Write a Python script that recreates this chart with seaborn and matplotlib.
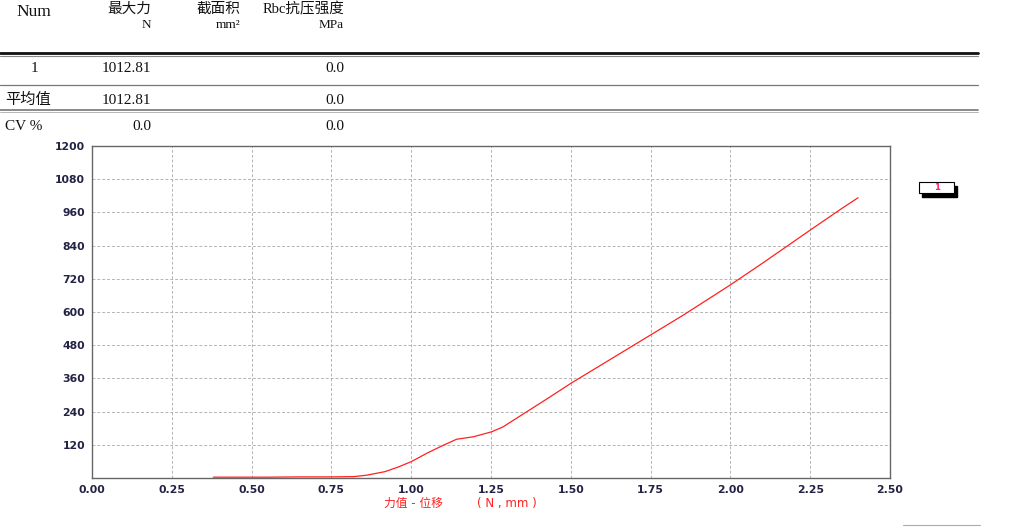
import matplotlib
matplotlib.use("Agg")
import matplotlib.pyplot as plt
import seaborn as sns
import pandas as pd
from matplotlib.lines import Line2D
from matplotlib.patches import Rectangle

# curve: displacement (mm) vs force (N)
displacement = [0.38, 0.45, 0.55, 0.65, 0.75, 0.82, 0.86, 0.918, 0.96, 1.00, 1.05, 1.10,
                1.142, 1.195, 1.252, 1.288, 1.33, 1.42, 1.50, 1.60, 1.75, 1.85, 2.00,
                2.10, 2.25, 2.35, 2.40]
force = [3, 3, 3, 4, 4, 5, 10, 23, 40, 59, 90, 118,
         140, 149, 167, 185, 216, 282, 342, 412, 517, 587, 698,
         776, 896, 975, 1013]

x_ticks = [0.00, 0.25, 0.50, 0.75, 1.00, 1.25, 1.50, 1.75, 2.00, 2.25, 2.50]
y_ticks = [0, 120, 240, 360, 480, 600, 720, 840, 960, 1080, 1200]

# result table
col_headers = ["Num", "最大力", "截面积", "Rbc抗压强度"]
col_units = ["", "N", "mm²", "MPa"]
row_labels = ["1", "平均值", "CV %"]
max_force = ["1012.81", "1012.81", "0.0"]
strength = ["0.0", "0.0", "0.0"]

df = pd.DataFrame({"disp": displacement, "force": force})

sns.set_style("white")
plt.rcParams["font.family"] = ["DejaVu Sans", "Noto Sans CJK SC"]

fig = plt.figure(figsize=(10.28, 5.28), dpi=100)
W, H = 1028, 528
ax = fig.add_axes([92 / W, 1 - 478 / H, (890 - 92) / W, (478 - 146) / H])

sns.lineplot(data=df, x="disp", y="force", color="#ff2020", linewidth=0.9,
             sort=False, ax=ax, legend=False)

ax.set_xlim(0, 2.5)
ax.set_ylim(0, 1200)
ax.set_xticks(x_ticks)
ax.set_xticklabels([f"{t:.2f}" for t in x_ticks])
ax.set_yticks(y_ticks)
ax.set_yticklabels(["" if t == 0 else str(t) for t in y_ticks])
ax.tick_params(axis="both", labelsize=7.8, colors="#333333", length=3, width=0.8,
               direction="out", pad=2)
for lab in ax.get_xticklabels() + ax.get_yticklabels():
    lab.set_fontweight("bold")
    lab.set_color("#222244")
ax.grid(True, color="#b4b4b4", linestyle=(0, (3, 2)), linewidth=0.7)
for side in ["left", "bottom", "top", "right"]:
    ax.spines[side].set_visible(True)
    ax.spines[side].set_color("#666666")
    ax.spines[side].set_linewidth(1.0)
ax.set_xlabel("")
ax.set_ylabel("")

fig.text(384 / W, 1 - 503 / H, "力值 - 位移", color="#ff2020",
         fontsize=8.5, va="center", ha="left")
fig.text(477 / W, 1 - 503 / H, "( N , mm )", color="#ff2020",
         fontsize=8.5, va="center", ha="left")

# legend box with shadow
fig.patches.append(Rectangle((922 / W, 1 - 197 / H), 35 / W, 11 / H,
                             transform=fig.transFigure, facecolor="black", edgecolor="black"))
fig.patches.append(Rectangle((919 / W, 1 - 193 / H), 35 / W, 11 / H,
                             transform=fig.transFigure, facecolor="white",
                             edgecolor="black", linewidth=0.8))
fig.text(937 / W, 1 - 188 / H, "1", color="#ff2060", fontsize=6, fontweight="bold",
         ha="center", va="center")

# table text
tfont = ["Liberation Serif", "Noto Sans CJK SC"]
right_x = [None, 151, 240, 344]
fig.text(34 / W, 1 - 12 / H, col_headers[0], fontsize=12.5, ha="center", va="center",
         family=tfont, color="#111111")
for i in range(1, 4):
    fig.text(right_x[i] / W, 1 - 9 / H, col_headers[i], fontsize=10.5, ha="right",
             va="center", family=tfont, color="#111111")
    fig.text(right_x[i] / W, 1 - 25 / H, col_units[i], fontsize=9.5, ha="right",
             va="center", family=tfont, color="#111111")

row_y = [68, 100, 126]
for j in range(3):
    if j == 0:
        fig.text(34 / W, 1 - row_y[j] / H, row_labels[j], fontsize=11, ha="center",
                 va="center", family=tfont, color="#111111")
    else:
        fig.text(5 / W, 1 - row_y[j] / H, row_labels[j], fontsize=11, ha="left",
                 va="center", family=tfont, color="#111111")
    fig.text(151 / W, 1 - row_y[j] / H, max_force[j], fontsize=11, ha="right",
             va="center", family=tfont, color="#111111")
    fig.text(344 / W, 1 - row_y[j] / H, strength[j], fontsize=11, ha="right",
             va="center", family=tfont, color="#111111")

# table rules
def hline(y, lw, color):
    fig.add_artist(Line2D([0, 978 / W], [1 - y / H, 1 - y / H], color=color,
                          linewidth=lw, transform=fig.transFigure))

hline(53, 2.0, "#111111")
hline(55.5, 0.8, "#888888")
hline(85, 0.9, "#777777")
hline(110, 1.2, "#777777")
hline(112, 0.6, "#aaaaaa")

fig.add_artist(Line2D([903 / W, 980 / W], [1 - 525 / H, 1 - 525 / H], color="#aaaaaa",
                      linewidth=0.8, transform=fig.transFigure))

fig.savefig("out.png", dpi=100)
